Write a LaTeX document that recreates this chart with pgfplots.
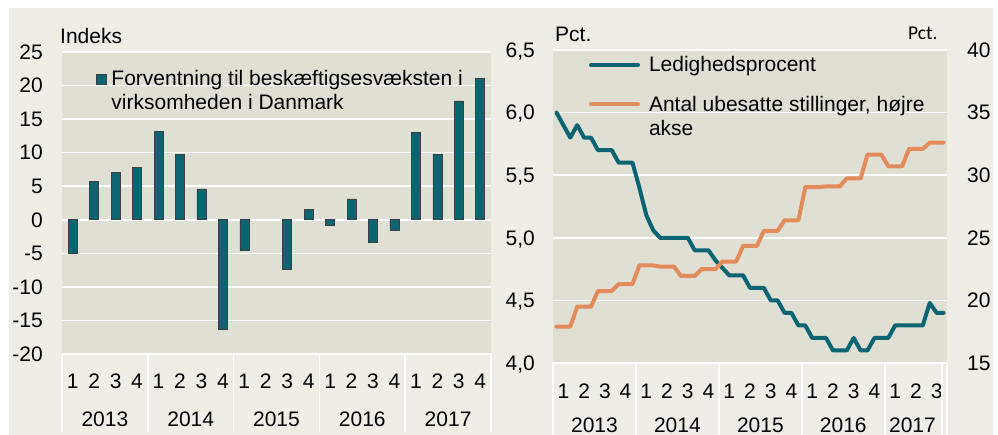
\documentclass[border=0pt]{standalone}
\usepackage{fontspec}
\setmainfont{Liberation Sans}
\newfontfamily\carlito{Carlito}
\usepackage{pgfplots}
\pgfplotsset{compat=1.18}
\definecolor{outerbg}{HTML}{EEEEE6}
\definecolor{plotbg}{HTML}{DFDFD4}
\definecolor{tealc}{HTML}{0A6471}
\definecolor{orangec}{HTML}{E38B5B}
\newcommand{\bigf}{\fontsize{21}{24}\selectfont}
\begin{document}
\begin{tikzpicture}[x=1pt,y=1pt]
\useasboundingbox (0,0) rectangle (998,435);
\fill[outerbg] (9,0) rectangle (993,427);
% ---------------- left panel ----------------
\begin{axis}[
  at={(62pt,81pt)}, anchor=south west, scale only axis,
  width=429pt, height=302pt,
  xmin=0.5, xmax=20.5, ymin=-20, ymax=25,
  ytick={-20,-15,...,25},
  xtick={1,...,20},
  xticklabels={1,2,3,4,1,2,3,4,1,2,3,4,1,2,3,4,1,2,3,4},
  major tick length=0pt,
  axis line style={draw=none},
  axis background/.style={fill=plotbg},
  ymajorgrids, grid style={white, line width=1.6pt},
  tick label style={font=\bigf},
  /pgf/number format/assume math mode=true,
  yticklabel style={anchor=east, inner sep=0pt, xshift=-19pt, text depth=0pt},
  xticklabel style={anchor=base, inner sep=0pt, yshift=-34.3pt},
  clip=false,
  legend cell align=left,
  legend image code/.code={\draw[fill=tealc, draw=black!75, line width=0.6pt] (0pt,1pt) rectangle (10pt,11pt);},
  legend style={at={(0.079,0.946)}, anchor=north west, draw=none, fill=none,
    inner sep=0pt, outer sep=0pt, column sep=5pt, font=\bigf,
    cells={anchor=base west}, nodes={inner sep=0pt}},
]
\addplot[ybar, bar width=9pt, fill=tealc, draw=black!75, line width=0.6pt] table {
x y
1 -5.0
2 5.7
3 7.1
4 7.8
5 13.2
6 9.7
7 4.6
8 -16.3
9 -4.6
11 -7.4
12 1.5
13 -0.8
14 3.1
15 -3.4
16 -1.5
17 13.0
18 9.8
19 17.7
20 21.1
};
\addlegendentry{\begin{tabular}[t]{@{}l@{}}Forventning til beskæftigsesvæksten i\\virksomheden i Danmark\end{tabular}}
\foreach \xx in {0.5,4.5,8.5,12.5,16.5,20.5}{
  \edef\tmp{\noexpand\draw[white, line width=1.6pt] (axis cs:\xx,-20) -- ++(0pt,-78pt);}\tmp
}
\node[anchor=base, inner sep=0pt, font=\bigf] at (axis cs:2.5,-20) [yshift=-72.7pt] {2013};
\node[anchor=base, inner sep=0pt, font=\bigf] at (axis cs:6.5,-20) [yshift=-72.7pt] {2014};
\node[anchor=base, inner sep=0pt, font=\bigf] at (axis cs:10.5,-20) [yshift=-72.7pt] {2015};
\node[anchor=base, inner sep=0pt, font=\bigf] at (axis cs:14.5,-20) [yshift=-72.7pt] {2016};
\node[anchor=base, inner sep=0pt, font=\bigf] at (axis cs:18.5,-20) [yshift=-72.7pt] {2017};
\end{axis}
\node[anchor=base west, inner sep=0pt, font=\bigf] at (60,391) {Indeks};
% ---------------- right panel ----------------
\begin{axis}[
  at={(553pt,72pt)}, anchor=south west, scale only axis,
  width=394pt, height=313pt,
  xmin=-0.5, xmax=56.5, ymin=4, ymax=6.5,
  ytick={4,4.5,...,6.5},
  xtick={1,4,...,55},
  xticklabels={1,2,3,4,1,2,3,4,1,2,3,4,1,2,3,4,1,2,3},
  major tick length=0pt,
  axis line style={draw=none},
  axis background/.style={fill=plotbg},
  ymajorgrids, grid style={white, line width=1.6pt},
  tick label style={font=\bigf},
  /pgf/number format/assume math mode=true,
  yticklabel style={anchor=east, inner sep=0pt, xshift=-18pt, text depth=0pt,
    /pgf/number format/.cd, fixed, fixed zerofill, precision=1, use comma},
  xticklabel style={anchor=base, inner sep=0pt, yshift=-35.3pt},
  clip=false,
]
\addplot[tealc, line width=4pt, line join=round, line cap=round] table {
x y
0 6.0
1 5.9
2 5.8
3 5.9
4 5.8
5 5.8
6 5.7
7 5.7
8 5.7
9 5.6
10 5.6
11 5.6
12 5.4
13 5.18
14 5.06
15 5.0
16 5.0
17 5.0
18 5.0
19 5.0
20 4.9
21 4.9
22 4.9
23 4.82
24 4.76
25 4.7
26 4.7
27 4.7
28 4.6
29 4.6
30 4.6
31 4.5
32 4.5
33 4.4
34 4.4
35 4.3
36 4.3
37 4.2
38 4.2
39 4.2
40 4.1
41 4.1
42 4.1
43 4.2
44 4.1
45 4.1
46 4.2
47 4.2
48 4.2
49 4.3
50 4.3
51 4.3
52 4.3
53 4.3
54 4.48
55 4.4
56 4.4
};
\foreach \xx in {-0.5,11.5,23.5,35.5,47.5,55.8,56.5}{
  \edef\tmp{\noexpand\draw[white, line width=1.6pt] (axis cs:\xx,4) -- ++(0pt,-72pt);}\tmp
}
\node[anchor=base, inner sep=0pt, font=\bigf] at (axis cs:5.5,4) [yshift=-69.3pt] {2013};
\node[anchor=base, inner sep=0pt, font=\bigf] at (axis cs:17.5,4) [yshift=-69.3pt] {2014};
\node[anchor=base, inner sep=0pt, font=\bigf] at (axis cs:29.5,4) [yshift=-69.3pt] {2015};
\node[anchor=base, inner sep=0pt, font=\bigf] at (axis cs:41.5,4) [yshift=-69.3pt] {2016};
\node[anchor=base, inner sep=0pt, font=\bigf] at (axis cs:51.5,4) [yshift=-69.3pt] {2017};
\end{axis}
\begin{axis}[
  at={(553pt,72pt)}, anchor=south west, scale only axis,
  width=394pt, height=313pt,
  xmin=-0.5, xmax=56.5, ymin=15, ymax=40,
  ytick={15,20,...,40},
  axis y line*=right, axis x line=none,
  major tick length=0pt,
  axis line style={draw=none},
  tick label style={font=\bigf},
  /pgf/number format/assume math mode=true,
  yticklabel style={anchor=west, inner sep=0pt, xshift=20pt, text depth=0pt},
  clip=false,
  legend cell align=left,
  legend image code/.code={\draw[#1, line cap=round] (0pt,7pt) -- (47pt,7pt);},
  legend style={at={(0.0914,0.9834)}, anchor=north west, draw=none, fill=none,
    inner sep=0pt, outer sep=0pt, column sep=9pt, row sep=21pt, font=\bigf,
    cells={anchor=base west}, nodes={inner sep=0pt}},
]
\addlegendimage{tealc, line width=4pt}
\addlegendentry{\begin{tabular}[t]{@{}l@{}}Ledighedsprocent\end{tabular}}
\addplot[orangec, line width=4pt, line join=round, line cap=round] table {
x y
0 17.9
1 17.9
2 17.9
3 19.5
4 19.5
5 19.5
6 20.75
7 20.75
8 20.75
9 21.3
10 21.3
11 21.3
12 22.8
13 22.8
14 22.8
15 22.7
16 22.7
17 22.7
18 21.95
19 21.95
20 21.95
21 22.5
22 22.5
23 22.5
24 23.1
25 23.1
26 23.1
27 24.35
28 24.35
29 24.35
30 25.55
31 25.55
32 25.55
33 26.4
34 26.4
35 26.4
36 29.05
37 29.05
38 29.05
39 29.1
40 29.1
41 29.1
42 29.75
43 29.75
44 29.75
45 31.65
46 31.65
47 31.65
48 30.7
49 30.7
50 30.7
51 32.1
52 32.1
53 32.1
54 32.6
55 32.6
56 32.6
};
\addlegendentry{\begin{tabular}[t]{@{}l@{}}Antal ubesatte stillinger, højre\\akse\end{tabular}}
\end{axis}
\node[anchor=base west, inner sep=0pt, font=\bigf] at (555,393) {Pct.};
\node[anchor=base west, inner sep=0pt, font=\carlito\fontsize{19.5}{22}\selectfont] at (908,395) {Pct.};
\end{tikzpicture}
\end{document}
